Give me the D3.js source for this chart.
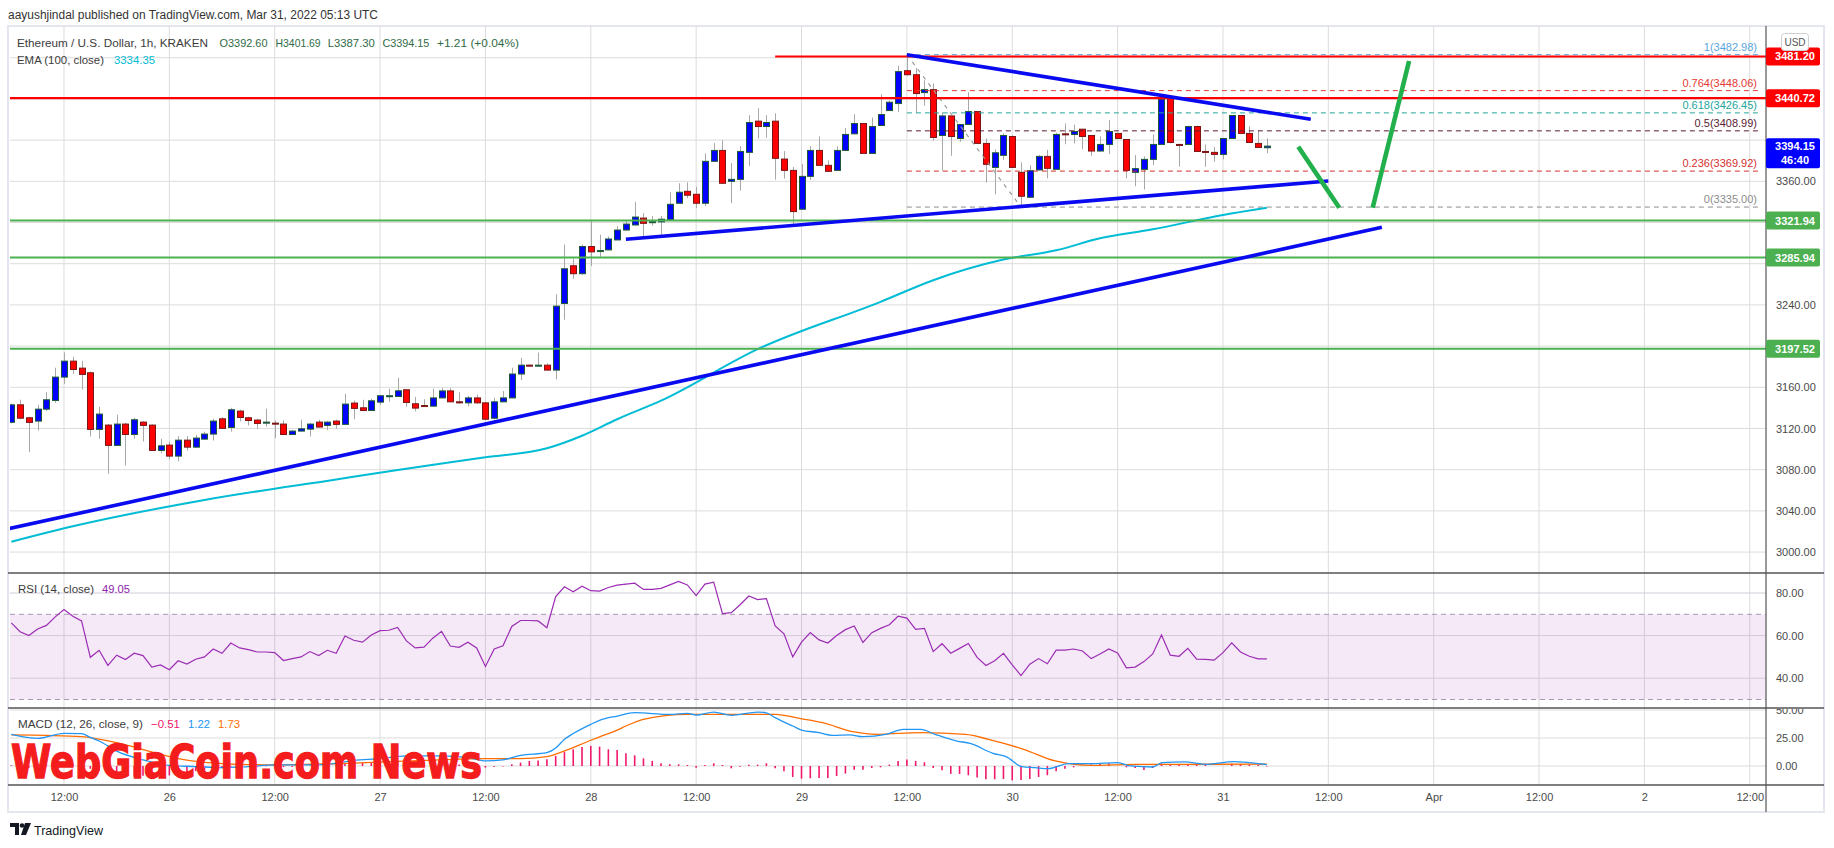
<!DOCTYPE html>
<html><head><meta charset="utf-8">
<script src="https://cdn.jsdelivr.net/npm/d3@7"></script>
<style>
html,body{margin:0;padding:0;background:#fff;}
svg{display:block;font-family:"Liberation Sans",Arial,sans-serif;}
</style></head><body>
<svg id="c" width="1834" height="848"></svg>
<script>
// ---------------- DATA ----------------
const refDate = Date.UTC(2022, 2, 31, 0, 0, 0); // Mar 31 00:00 UTC
const firstCandleHour = -138;                   // first candle: Mar 25 06:00
const open = [3126,3143,3130.4,3127.2,3138.8,3147.2,3169.9,3185.4,3178.6,3174.1,
3119.1,3123.3,3103.6,3124.3,3114.2,3126.2,3123.3,3098.7,3103.9,3093.2,
3108.7,3101.9,3109.7,3114.6,3129.4,3121,3136.9,3130.4,3128.2,3125.2,
3125.2,3124.3,3114.2,3117.5,3119.4,3126.2,3123,3127.2,3124,3144.7,
3140.1,3137.5,3145.6,3151.1,3151.1,3157.6,3144,3142.3,3141.7,3149.7,
3156.5,3145.9,3144.9,3149.7,3144.9,3130,3145.9,3149.7,3172.9,3181.5,
3180.6,3181.5,3176.7,3241.4,3278,3270.3,3296.7,3291.8,3293.4,3303.1,
3312.7,3317.6,3324.3,3319.8,3320.6,3322.6,3338.7,3350.3,3347.4,3338.7,
3379.4,3390,3360,3361.9,3388.1,3418.4,3413.2,3418.4,3381.6,3370.6,
3332.9,3364.8,3390,3375.5,3370.6,3390,3406.1,3416.1,3387.1,3414.2,
3428.7,3435.5,3467.4,3463.5,3446.1,3449,3404.5,3423.5,3401.6,3415.2,
3427.7,3396.8,3373.5,3385.2,3403.5,3368.7,3344.5,3371,3384.2,3371.6,
3406.1,3405.5,3410.6,3404.5,3389.4,3395.8,3406.5,3400.6,3368.7,3371.6,
3381.3,3395.8,3440.6,3395.8,3395.8,3413.2,3389,3388.1,3386.1,3401.6,
3423.9,3406.5,3396.8,3392.6];
const high = [3144,3148,3131,3143,3155.3,3179,3193.9,3189.6,3185.8,3175.4,
3141.1,3124.5,3133.3,3125.6,3130.4,3127,3124,3110,3107,3112.6,
3112.6,3113.6,3116.8,3129.4,3131,3140.1,3138.2,3131.4,3129.4,3139.2,
3127.8,3127.8,3118.4,3128.5,3125.2,3128.5,3127.2,3128.5,3153.7,3147.2,
3147.9,3148.9,3152.4,3158.6,3169.3,3157.8,3150.5,3148.4,3158.7,3159.4,
3159.4,3155.2,3151.6,3152.9,3146,3150,3156.5,3179,3188.6,3182,
3193.8,3183.2,3250.4,3298.6,3285.1,3298.6,3321.7,3308.2,3306.6,3316.3,
3322.7,3340,3329.1,3326.2,3326.5,3349.4,3358.1,3359,3354.5,3387.1,
3397.1,3400,3377.7,3394.2,3424.2,3431,3424.2,3426.1,3389.4,3373.9,
3376.8,3394.2,3403.5,3380.3,3393.9,3411.9,3425.2,3416.5,3421.9,3444.5,
3438.7,3472.3,3482.98,3470,3458,3454.8,3427,3424,3415.5,3446.5,
3428,3401.6,3391,3406.5,3404.8,3378.4,3375.5,3385.5,3390.6,3407.1,
3416.1,3415,3411,3405,3403.5,3419.4,3407,3401,3385.5,3384.2,
3405.5,3444.5,3442,3396.5,3414,3414,3395.8,3393.5,3402,3424.5,
3424.2,3413.5,3409.4,3401.69];
const low = [3125,3129,3097,3118,3137,3145,3163.4,3173,3157.9,3112.3,
3110,3076,3103,3084,3110,3107.4,3098,3096,3090,3088,
3098.7,3101,3109,3108.4,3119.7,3117,3126.9,3123,3119.7,3121.7,
3110.7,3114,3114,3117,3112.3,3121,3118.4,3119.7,3123.7,3129,
3137,3137,3143,3146,3150.8,3141.1,3136.6,3141,3141.4,3149.4,
3145.5,3144,3141.4,3144,3128,3129,3145.5,3149.4,3167,3180.5,
3180.3,3176.4,3167.7,3225.6,3265.5,3269.3,3277.7,3286.7,3293,3302.8,
3312.4,3317.2,3306.6,3317,3308,3322.3,3338.4,3343.5,3333.9,3336,
3379,3357.7,3338.7,3350.9,3374.8,3401.6,3402.3,3361.6,3362.6,3317.7,
3332.3,3361.3,3375.2,3369.4,3370.3,3389.4,3405.8,3386.8,3386.8,3413.9,
3428.4,3427.1,3462.6,3426.5,3433.5,3399.4,3370.3,3384.8,3398.4,3414.8,
3396.5,3358.7,3347.4,3380.6,3373.2,3335,3344.2,3370.6,3362.9,3371.3,
3396,3396.8,3391,3384.8,3389,3386.5,3401.3,3362.9,3355.2,3352,
3375.5,3395.2,3396.8,3374.2,3395.5,3388.7,3374.2,3379,3381.3,3401.3,
3405.8,3397.4,3392.6,3387.3];
const close = [3143,3130,3125.9,3138.8,3147.9,3169.9,3185.4,3177.3,3172.5,3119.1,
3134,3103.6,3124.3,3114.2,3128.5,3123,3098.7,3103.2,3093.2,3108.7,
3101.9,3110.7,3114.6,3127.2,3120.1,3138.2,3130.7,3127.8,3124.9,3126.2,
3124.3,3114.2,3117.5,3119.7,3124.3,3121.4,3126.2,3124,3143.7,3139.5,
3137.5,3146.9,3151.8,3151.8,3156.6,3145.3,3139.8,3141.7,3149.7,3156.5,
3145.9,3144.9,3149.7,3144.9,3129,3145.9,3149.7,3172.9,3181.5,3181,
3181.5,3176.7,3238.8,3275.1,3270.3,3296.7,3291.5,3292.8,3304,3312.7,
3318.5,3325.3,3319.2,3320.8,3323.2,3337.7,3349.4,3346.5,3338.7,3379.4,
3390,3358.1,3361.9,3389,3417.1,3413.2,3417.1,3382.3,3370.6,3330.6,
3364.8,3390,3375.5,3369.7,3390,3405.5,3416.1,3387.1,3413.2,3424.8,
3436.8,3466.5,3463.5,3445.2,3449,3402.6,3423.5,3403.5,3415.2,3427.7,
3396.8,3376.5,3387.7,3404.5,3373.5,3345.5,3370.3,3384.2,3372.6,3405.5,
3405.2,3408.4,3403.5,3389.4,3395.8,3408.4,3401.6,3370.6,3372.3,3381.3,
3395.8,3439.7,3397.7,3394.8,3413.2,3389,3388.1,3386.1,3401.6,3423.9,
3406.5,3397.7,3392.9,3394.15];

// EMA(100) read at sampled candles: [candle number, value]
const emaPoints = [[1,3010],[8,3025],[23,3050.6],[38,3070.5],[45,3079.7],[55,3092],[62,3100.8],
[66,3113],[70,3129],[75,3147],[86,3197],[100,3243],[106,3264],[114,3284],[120,3293],[125,3304.7],
[131,3313.4],[139,3327.3],[144,3334.35]];

const rsiValues = [66.0,61.8,60.0,63.1,64.8,68.8,72.2,69.1,66.9,49.8,
53.1,46.0,50.8,48.8,51.7,50.6,45.2,46.2,44.0,48.2,
46.6,48.9,50.0,53.7,51.7,56.5,54.2,53.4,52.3,52.3,
52.0,48.3,49.2,50.0,52.5,50.6,53.1,51.7,59.8,57.8,
56.9,60.3,62.3,62.5,63.8,57.5,54.2,54.6,58.8,62.0,
55.1,54.5,56.9,54.2,45.5,53.7,55.2,64.3,67.1,67.1,
66.9,63.7,78.3,82.9,80.6,83.2,81.1,80.9,82.6,83.7,
84.2,84.6,81.7,81.7,82.2,83.8,85.4,83.8,78.8,84.2,
85.1,70.3,70.8,74.5,78.6,76.9,77.4,64.5,60.8,50.0,
56.9,61.4,58.0,56.5,60.0,62.8,64.5,56.8,61.4,63.4,
65.1,69.1,68.2,62.9,63.4,52.5,56.2,51.7,54.0,56.3,
49.8,46.0,48.2,51.7,46.3,41.2,46.6,49.2,46.8,53.2,
53.2,53.7,52.8,49.2,51.4,53.7,51.8,44.9,45.2,47.8,
51.4,60.3,50.8,50.3,54.0,48.9,48.8,48.5,52.0,56.6,
52.3,50.3,49.1,49.05];

const macdPoints = [[1,28.3],[4,24.7],[7,29.2],[9,28.9],[10,25.5],[11,22.3],[13,13.3],[16,5.5],[19,0.5],
[22,-0.5],[25,-1.5],[28,-0.5],[31,1],[34,1],[37,1.5],[40,5],[43,6.5],[46,9],[50,9],[53,7.5],[55,4.5],
[57,5.5],[59,9.5],[62,11.9],[63,16],[64,23.8],[65,29],[67,37.2],[68,40.8],[70,44.6],[72,47.6],[76,46.1],
[78,47.0],[79,45.5],[81,48.2],[83,45.2],[86,48.2],[87,47.5],[88,43.2],[90,35.7],[91,32.1],[93,29.8],
[94.5,27.4],[96.5,27.7],[98,26.2],[100.6,28.3],[102.6,32.7],[104.6,32.7],[106.2,28.3],[108.7,22.3],
[110.2,20.2],[112.8,11.3],[114.3,8.3],[116.1,-0.6],[117.6,-1.5],[119.1,-2.4],[121.4,2.1],[124,2.1],
[127,3.0],[128.5,0],[131,-0.9],[132.1,3.0],[134.6,3.6],[137.2,1.5],[140.2,3.9],[144,1.22]];
const signalPoints = [[1,27.7],[5,27.3],[9,26.2],[13,20.8],[18,10.4],[20,6.5],[23,3.2],[30,1.0],[40,2.5],
[48,5],[55,6.5],[59,6.5],[62,8.3],[64,13.4],[67,23],[68,26],[70,32],[71,35.7],[73,41.7],[78,46.1],
[83,46.1],[88,46.1],[90.9,42.3],[93.4,38.7],[97,30.4],[99.6,28.3],[104.6,29.8],[109.7,28.3],[112.3,23.8],
[116.3,14.9],[119.9,4.5],[124,0.6],[129,1.5],[134,1.5],[144,1.73]];
const macdHist = [0.6,-0.8,-1.6,-1.2,0.4,1.8,2.6,1.9,1.2,-2.5,
-4.2,-6.8,-7.5,-8.6,-9.5,-8.8,-9.6,-9.2,-8.4,-6.5,
-5.8,-4.6,-3.8,-2.2,-2.0,-0.6,-0.4,-0.5,-0.6,-0.2,
-0.3,-1.0,-0.9,-0.6,0.1,0.0,0.5,0.3,2.2,2.6,
2.8,3.2,3.8,4.0,4.5,3.6,2.8,2.4,2.6,3.0,
2.0,1.4,1.3,0.8,-1.5,-0.8,-0.4,1.5,3.0,4.5,
5.0,6.0,9.0,12.5,14.9,17.0,17.9,17.3,14.9,14.3,
11.3,9.5,6.8,4.5,2.4,1.5,1.5,0.9,-1.5,0.9,
2.4,0.9,-2.1,-0.6,1.2,1.2,2.4,-2.1,-4.8,-9.8,
-11.3,-11.0,-10.7,-10.7,-8.9,-6.8,-3.3,-3.3,-1.8,-1.2,
1.2,4.5,5.7,4.5,3.3,-1.8,-3.9,-7.1,-7.1,-8.3,
-10.4,-11.9,-11.9,-11.6,-12.8,-12.5,-11.6,-9.8,-8.3,-4.8,
-2.4,-1.2,0.3,1.5,1.8,2.4,0.0,-1.2,-1.8,-3.6,
-1.8,2.4,1.8,1.5,1.8,1.2,0.9,0.0,0.0,2.1,
1.8,1.2,0.9,-0.51];

const priceTicks = [3000,3040,3080,3120,3160,3200,3240,3280,3320,3360,3400,3440,3480];
const rsiTicks = [80,60,40];
const macdTicks = [50,25,0];
const timeTickHours = [-132,-120,-108,-96,-84,-72,-60,-48,-36,-24,-12,0,12,24,36,48,60];
const timeTickLabels = ["12:00","26","12:00","27","12:00","28","12:00","29","12:00","30","12:00","31","12:00","Apr","12:00","2","12:00"];

const redLevels = [3481.20, 3440.72];
const redLevelStartHour = [-51.0, null];
const greenLevels = [3321.94, 3285.94, 3197.52];

const fibRatios = ["1","0.764","0.618","0.5","0.236","0"];
const fibValues = [3482.98, 3448.06, 3426.45, 3408.99, 3369.92, 3335.00];
const fibColors = ["#5aa6e0","#e53935","#26a69a","#5b1b33","#d32f2f","#8c8c8c"];
const fibStartHour = -36, fibLowHour = -23;

// trend lines: [hour, price] endpoints
const blueLines = [
  [[-36, 3482.98], [10.0, 3420.2]],
  [[-68, 3303.7], [12.0, 3360.3]],
  [[-138.3, 3022.7], [18.1, 3315.3]]
];
const greenLines = [
  [[8.58, 3393.6], [13.25, 3334.4]],
  [[17.05, 3334.4], [21.2, 3476.8]]
];

// ---------------- LAYOUT ----------------
const HOUR = 3600e3;
const T = h => new Date(refDate + h * HOUR);
const kTime = k => T(firstCandleHour + k - 1);
const L = 10, R = 1766, mainTop = 26, mainBot = 573, rsiBot = 708, macdBot = 785, axisBot = 812;

const x = d3.scaleUtc().domain([T(-138.15), T(61.85)]).range([L, R]);
const y = d3.scaleLinear().domain([2979.7, 3510.8]).range([mainBot, mainTop]);
const yR = d3.scaleLinear().domain([26, 89.4]).range([rsiBot, mainBot]);
const yM = d3.scaleLinear().domain([-17, 51.8]).range([macdBot, rsiBot]);

const svg = d3.select("#c");
svg.append("rect").attr("width", 1834).attr("height", 848).attr("fill", "#fff");

const defs = svg.append("defs");
function clip(id, x0, y0, w, h) {
  defs.append("clipPath").attr("id", id).append("rect").attr("x", x0).attr("y", y0).attr("width", w).attr("height", h);
}
clip("cMain", L, mainTop, R - L, mainBot - mainTop);
clip("cRsi", L, mainBot, R - L, rsiBot - mainBot);
clip("cMacd", L, rsiBot, R - L, macdBot - rsiBot);
clip("cMacdAx", R, rsiBot + 1, 60, macdBot - rsiBot - 1);

// header
svg.append("text").attr("x", 8).attr("y", 19).attr("font-size", 12).attr("fill", "#333")
  .attr("textLength", 370).attr("lengthAdjust", "spacingAndGlyphs")
  .text("aayushjindal published on TradingView.com, Mar 31, 2022 05:13 UTC");

// frame
svg.append("rect").attr("x", 8).attr("y", mainTop).attr("width", 1816).attr("height", axisBot - mainTop)
  .attr("fill", "none").attr("stroke", "#e3e6ee").attr("stroke-width", 2);

// grids
const grid = svg.append("g");
grid.selectAll("line.v").data(timeTickHours).join("line")
  .attr("x1", d => x(T(d))).attr("x2", d => x(T(d))).attr("y1", mainTop).attr("y2", macdBot)
  .attr("stroke", "#dcdcdc").attr("stroke-width", 1);
grid.selectAll("line.h").data(priceTicks).join("line")
  .attr("x1", L).attr("x2", R).attr("y1", d => y(d)).attr("y2", d => y(d))
  .attr("stroke", "#dcdcdc");

// RSI band
const rsiG = svg.append("g").attr("clip-path", "url(#cRsi)");
rsiG.append("rect").attr("x", L).attr("width", R - L).attr("y", yR(70)).attr("height", yR(30) - yR(70))
  .attr("fill", "#9c27b0").attr("fill-opacity", 0.1);
rsiG.selectAll("line.g").data(rsiTicks).join("line")
  .attr("x1", L).attr("x2", R).attr("y1", d => yR(d)).attr("y2", d => yR(d)).attr("stroke", "#d2cbd8");
rsiG.selectAll("line.d").data([70, 30]).join("line")
  .attr("x1", L).attr("x2", R).attr("y1", d => yR(d)).attr("y2", d => yR(d))
  .attr("stroke", "#a898b6").attr("stroke-dasharray", "5,4");
rsiG.append("path").datum(rsiValues)
  .attr("d", d3.line().x((d, i) => x(kTime(i + 1))).y(d => yR(d)))
  .attr("fill", "none").attr("stroke", "#9b2cb3").attr("stroke-width", 1.2);

// MACD
const macdG = svg.append("g").attr("clip-path", "url(#cMacd)");
macdG.selectAll("line.g").data(macdTicks).join("line")
  .attr("x1", L).attr("x2", R).attr("y1", d => yM(d)).attr("y2", d => yM(d)).attr("stroke", "#dcdcdc");
macdG.selectAll("line.h").data(macdHist).join("line")
  .attr("x1", (d, i) => x(kTime(i + 1))).attr("x2", (d, i) => x(kTime(i + 1)))
  .attr("y1", yM(0)).attr("y2", d => yM(d))
  .attr("stroke", "#f0186c").attr("stroke-width", 1.6);
const ptLine = d3.line().x(d => x(kTime(d[0]))).y(d => yM(d[1])).curve(d3.curveMonotoneX);
macdG.append("path").datum(signalPoints).attr("d", ptLine).attr("fill", "none").attr("stroke", "#ff6d00").attr("stroke-width", 1.3);
macdG.append("path").datum(macdPoints).attr("d", ptLine).attr("fill", "none").attr("stroke", "#2196f3").attr("stroke-width", 1.3);

// main pane
const mainG = svg.append("g").attr("clip-path", "url(#cMain)");
const candles = open.map((o, i) => ({ k: i + 1, o, h: high[i], l: low[i], c: close[i] }));
mainG.selectAll("line.w").data(candles).join("line")
  .attr("x1", d => Math.round(x(kTime(d.k))) + 0.5).attr("x2", d => Math.round(x(kTime(d.k))) + 0.5)
  .attr("y1", d => y(d.h)).attr("y2", d => y(d.l)).attr("stroke", "#a8a8a8").attr("stroke-width", 1);
mainG.selectAll("rect.b").data(candles).join("rect")
  .attr("x", d => Math.round(x(kTime(d.k))) - 2.5).attr("width", 6)
  .attr("y", d => y(Math.max(d.o, d.c)))
  .attr("height", d => Math.max(1, Math.abs(y(d.o) - y(d.c))))
  .attr("fill", d => d.c >= d.o ? "#0000ff" : "#ff0000")
  .attr("stroke", d => d.c >= d.o ? "#1d5b34" : "#7a1616").attr("stroke-width", 1);

// EMA
mainG.append("path").datum(emaPoints)
  .attr("d", d3.line().x(d => x(kTime(d[0]))).y(d => y(d[1])).curve(d3.curveMonotoneX))
  .attr("fill", "none").attr("stroke", "#00bcd4").attr("stroke-width", 2);

// Fibonacci
const fibEnd = 1760;
mainG.selectAll("line.fib").data(fibValues).join("line")
  .attr("x1", x(T(fibStartHour))).attr("x2", fibEnd).attr("y1", d => y(d)).attr("y2", d => y(d))
  .attr("stroke", (d, i) => fibColors[i]).attr("stroke-width", 1).attr("stroke-dasharray", "5,4");
mainG.append("line").attr("x1", x(T(fibStartHour))).attr("y1", y(fibValues[0]))
  .attr("x2", x(T(fibLowHour))).attr("y2", y(fibValues[5]))
  .attr("stroke", "#9a9a9a").attr("stroke-width", 1.2).attr("stroke-dasharray", "4,5");
mainG.selectAll("text.fib").data(fibValues).join("text")
  .attr("x", 1757).attr("y", d => y(d) - 4).attr("text-anchor", "end").attr("font-size", 11)
  .attr("fill", (d, i) => fibColors[i]).text((d, i) => fibRatios[i] + "(" + d.toFixed(2) + ")");

// horizontal levels
mainG.selectAll("line.red").data(redLevels).join("line")
  .attr("x1", (d, i) => redLevelStartHour[i] === null ? L : x(T(redLevelStartHour[i]))).attr("x2", R)
  .attr("y1", d => y(d)).attr("y2", d => y(d)).attr("stroke", "#ff0000").attr("stroke-width", 2.2);
mainG.selectAll("line.grn").data(greenLevels).join("line")
  .attr("x1", L).attr("x2", R).attr("y1", d => y(d)).attr("y2", d => y(d))
  .attr("stroke", "#4caf50").attr("stroke-width", 2);

// trend lines
const segLine = d3.line().x(d => x(T(d[0]))).y(d => y(d[1]));
mainG.selectAll("path.bl").data(blueLines).join("path").attr("d", segLine)
  .attr("stroke", "#0a0af0").attr("stroke-width", 3.6).attr("fill", "none");
mainG.selectAll("path.gl").data(greenLines).join("path").attr("d", segLine)
  .attr("stroke", "#21b04b").attr("stroke-width", 4.6).attr("fill", "none");

// legends
const lg = svg.append("g").attr("font-size", 11.5);
lg.append("text").attr("x", 17).attr("y", 47).attr("fill", "#3c3c3c").attr("textLength", 191).attr("lengthAdjust", "spacingAndGlyphs").text("Ethereum / U.S. Dollar, 1h, KRAKEN");
const ohlc = [["O3392.60", 219.5, 48], ["H3401.69", 275.6, 45], ["L3387.30", 327.8, 47], ["C3394.15", 382.4, 47], ["+1.21 (+0.04%)", 437, 82]];
lg.selectAll("text.o").data(ohlc).join("text").attr("x", d => d[1]).attr("y", 47)
  .attr("textLength", d => d[2]).attr("lengthAdjust", "spacingAndGlyphs")
  .attr("fill", "#2f6b47").text(d => d[0]);
lg.append("text").attr("x", 17).attr("y", 63.5).attr("fill", "#3c3c3c").attr("textLength", 87).attr("lengthAdjust", "spacingAndGlyphs").text("EMA (100, close)");
lg.append("text").attr("x", 114).attr("y", 63.5).attr("fill", "#00bcd4").attr("textLength", 41).attr("lengthAdjust", "spacingAndGlyphs").text("3334.35");
lg.append("text").attr("x", 18).attr("y", 593).attr("fill", "#3c3c3c").attr("textLength", 76).attr("lengthAdjust", "spacingAndGlyphs").text("RSI (14, close)");
lg.append("text").attr("x", 102).attr("y", 593).attr("fill", "#8e24aa").attr("textLength", 28).attr("lengthAdjust", "spacingAndGlyphs").text("49.05");
lg.append("text").attr("x", 18).attr("y", 728).attr("fill", "#3c3c3c").attr("textLength", 125).attr("lengthAdjust", "spacingAndGlyphs").text("MACD (12, 26, close, 9)");
lg.append("text").attr("x", 151).attr("y", 728).attr("fill", "#f0186c").attr("textLength", 29).attr("lengthAdjust", "spacingAndGlyphs").text("\u22120.51");
lg.append("text").attr("x", 188).attr("y", 728).attr("fill", "#2196f3").attr("textLength", 22).attr("lengthAdjust", "spacingAndGlyphs").text("1.22");
lg.append("text").attr("x", 218).attr("y", 728).attr("fill", "#ff6d00").attr("textLength", 22).attr("lengthAdjust", "spacingAndGlyphs").text("1.73");

// watermark
svg.append("text").attr("x", 11).attr("y", 778).attr("font-family", "DejaVu Sans").attr("font-weight", "bold")
  .attr("font-size", 46).attr("textLength", 471).attr("lengthAdjust", "spacingAndGlyphs")
  .attr("fill", "#f41c1c").attr("stroke", "#f41c1c").attr("stroke-width", 1.4)
  .text("WebGiaCoin.com News");

// separators
const sep = svg.append("g").attr("stroke", "#555");
[mainBot, rsiBot, macdBot].forEach(v => sep.append("line").attr("x1", 8).attr("x2", 1824).attr("y1", v).attr("y2", v).attr("stroke-width", 1.6));
sep.append("line").attr("x1", R).attr("x2", R).attr("y1", mainTop).attr("y2", axisBot).attr("stroke-width", 1.2);

// axes
function styleAxis(g) {
  g.select(".domain").remove();
  g.selectAll("text").attr("fill", "#4a4a4a").attr("font-size", 11).attr("font-family", "Liberation Sans, Arial, sans-serif");
}
const boxLevels = redLevels.concat(greenLevels, [close[close.length - 1]]);
const visiblePriceTicks = priceTicks.filter(t => boxLevels.every(b => Math.abs(y(t) - y(b)) > 14));
svg.append("g").attr("transform", `translate(${R},0)`)
  .call(d3.axisRight(y).tickValues(visiblePriceTicks).tickSize(0).tickPadding(10).tickFormat(d3.format(".2f"))).call(styleAxis);
svg.append("g").attr("transform", `translate(${R},0)`)
  .call(d3.axisRight(yR).tickValues(rsiTicks).tickSize(0).tickPadding(10).tickFormat(d3.format(".2f"))).call(styleAxis);
svg.append("g").attr("clip-path", "url(#cMacdAx)")
  .append("g").attr("transform", `translate(${R},0)`)
  .call(d3.axisRight(yM).tickValues(macdTicks).tickSize(0).tickPadding(10).tickFormat(d3.format(".2f"))).call(styleAxis);
svg.append("g").attr("transform", `translate(0,${macdBot})`)
  .call(d3.axisBottom(x).tickValues(timeTickHours.map(T)).tickSize(0).tickPadding(8)
    .tickFormat((d, i) => timeTickLabels[i])).call(styleAxis);

// price boxes
function box(v, color) {
  const g = svg.append("g");
  g.append("rect").attr("x", R).attr("y", y(v) - 9).attr("width", 54).attr("height", 18).attr("rx", 2).attr("fill", color);
  g.append("text").attr("x", 1795).attr("y", y(v) + 4).attr("text-anchor", "middle").attr("font-size", 11)
    .attr("font-weight", "bold").attr("fill", "#fff").text(v.toFixed(2));
}
redLevels.forEach(v => box(v, "#ff0000"));
greenLevels.forEach(v => box(v, "#4caf50"));
const lastClose = close[close.length - 1];
svg.append("rect").attr("x", R).attr("y", y(lastClose) - 8).attr("width", 54).attr("height", 30).attr("rx", 2).attr("fill", "#0000ff");
svg.append("text").attr("x", 1795).attr("y", y(lastClose) + 4).attr("text-anchor", "middle").attr("font-size", 11).attr("font-weight", "bold").attr("fill", "#fff").text(lastClose.toFixed(2));
svg.append("text").attr("x", 1795).attr("y", y(lastClose) + 18).attr("text-anchor", "middle").attr("font-size", 11).attr("font-weight", "bold").attr("fill", "#fff").text("46:40");

// USD button
svg.append("rect").attr("x", 1781.5).attr("y", 33.5).attr("width", 27).attr("height", 17).attr("rx", 3)
  .attr("fill", "#fff").attr("stroke", "#cfcfcf");
svg.append("text").attr("x", 1795).attr("y", 46).attr("text-anchor", "middle").attr("font-size", 10).attr("fill", "#555").text("USD");

// TradingView logo
const logo = svg.append("g").attr("fill", "#131722");
logo.append("path").attr("d", "M10 823 h9 v12 h-4 v-8 h-5 z");
logo.append("circle").attr("cx", 22).attr("cy", 825.5).attr("r", 2.3);
logo.append("path").attr("d", "M25 823 h6 l-5 12 h-5 z");
svg.append("text").attr("x", 34).attr("y", 835).attr("font-size", 13).attr("fill", "#131722")
  .attr("textLength", 69).attr("lengthAdjust", "spacingAndGlyphs").text("TradingView");
</script></body></html>
